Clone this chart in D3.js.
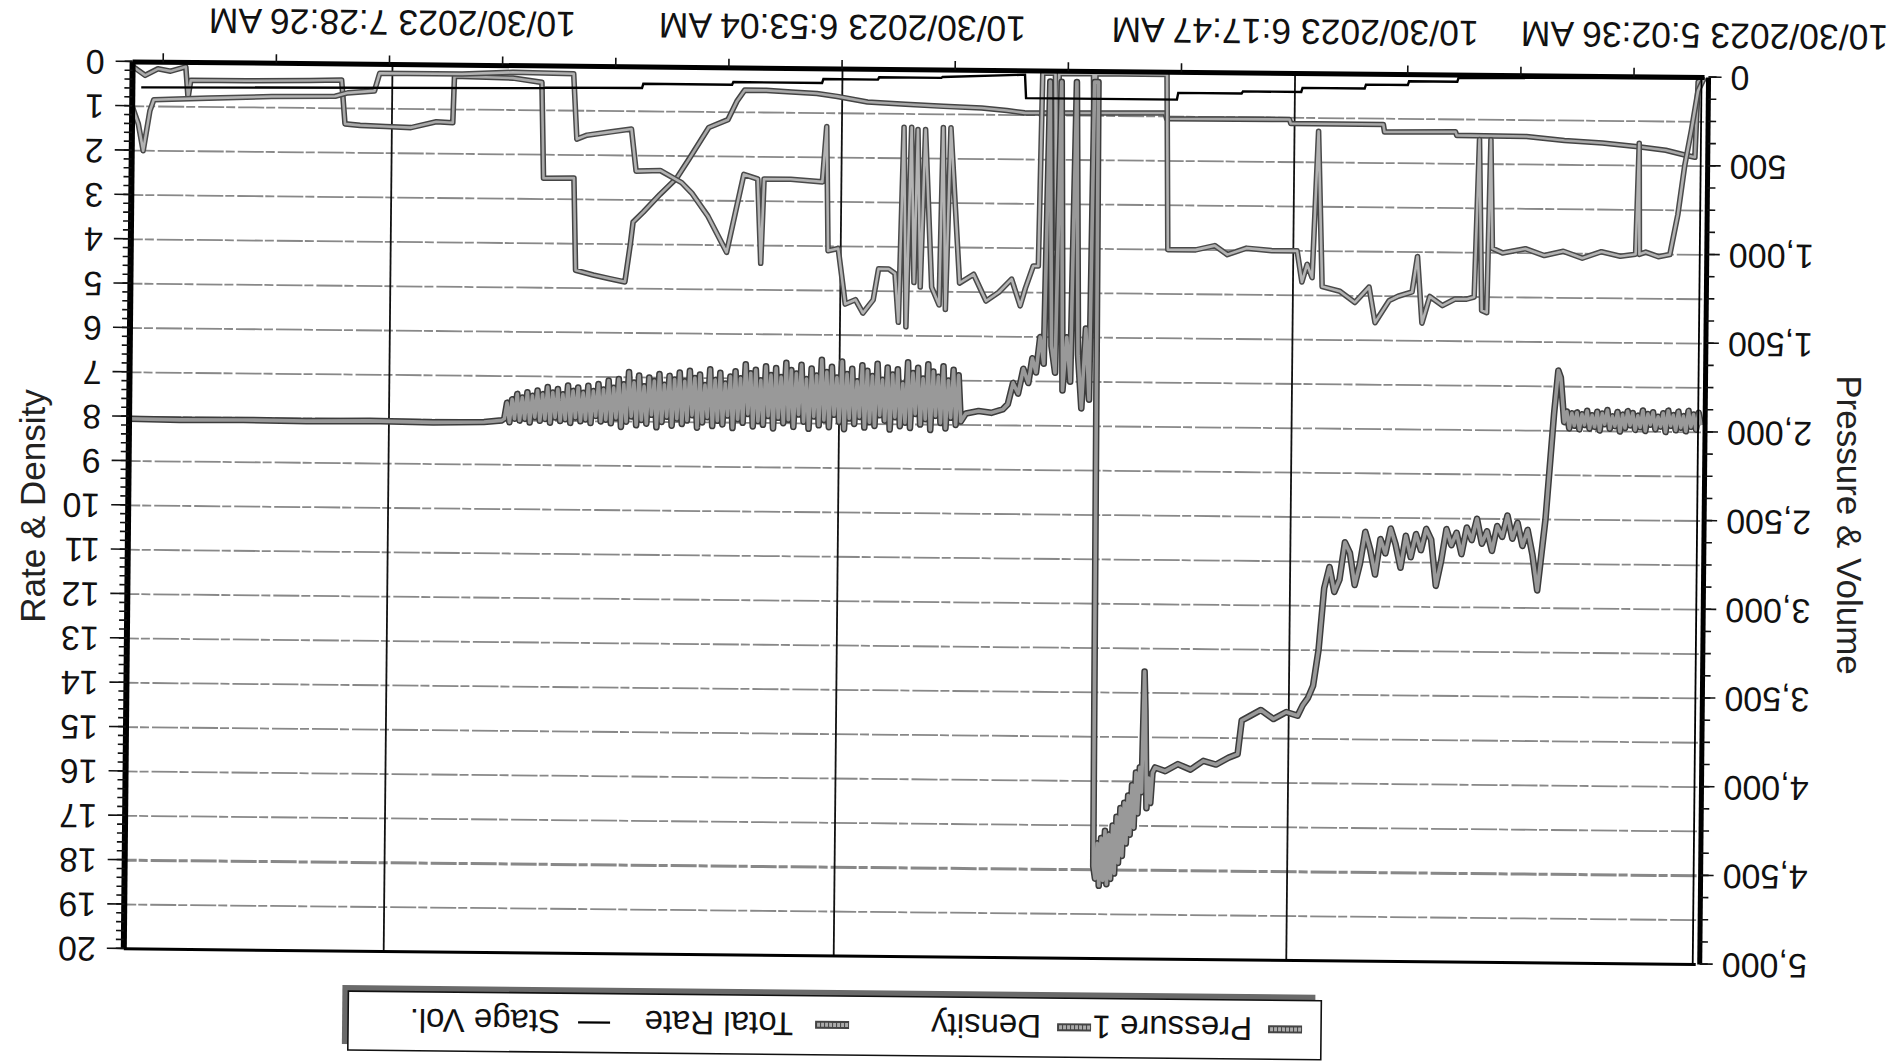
<!DOCTYPE html>
<html>
<head>
<meta charset="utf-8">
<script src="https://cdn.jsdelivr.net/npm/d3@7"></script>
<style>
  html, body { margin: 0; padding: 0; background: #fff; }
  svg { display: block; font-family: "Liberation Sans", Arial, sans-serif; }
</style>
</head>
<body>
<div id="chart"></div>
<script>
// x is minutes along the record (the recorder's axis is not one clock: see first label)
const timeTicks = [0, 32.3, 68.0, 103.5];
const timeLabels = ['10/30/2023 5:02:36 AM', '10/30/2023 6:17:47 AM', '10/30/2023 6:53:04 AM', '10/30/2023 7:28:26 AM'];
const rateTicks = [0, 1, 2, 3, 4, 5, 6, 7, 8, 9, 10, 11, 12, 13, 14, 15, 16, 17, 18, 19, 20];
const pressTicks = [0, 500, 1000, 1500, 2000, 2500, 3000, 3500, 4000, 4500, 5000];
const seriesNames = ['Pressure 1', 'Density', 'Total Rate', 'Stage Vol.'];

// psi
const pressure1 = [
  [0,1960],[0.2,1890],[0.4,1985],[0.6,1900],[0.8,1970],[1.0,1880],[1.2,1995],[1.4,1910],[1.6,1975],[1.8,1885],
  [2.0,1990],[2.2,1905],[2.4,1965],[2.6,1880],[2.8,2000],[3.0,1895],[3.2,1970],[3.4,1915],[3.6,1985],[3.8,1890],
  [4.0,1960],[4.2,1900],[4.4,1995],[4.6,1880],[4.8,1975],[5.0,1910],[5.2,1990],[5.4,1895],[5.6,1965],[5.8,1885],
  [6.0,1980],[6.2,1905],[6.4,2000],[6.6,1890],[6.8,1970],[7.0,1915],[7.2,1985],[7.4,1880],[7.6,1960],[7.8,1900],
  [8.0,1995],[8.2,1890],[8.4,1975],[8.6,1910],[8.8,1985],[9.0,1885],[9.2,1965],[9.4,1905],[9.6,1990],[9.8,1895],
  [10.0,1970],[10.2,1900],[10.4,1985],[10.6,1890],[10.8,1950],
  [11.1,1700],[11.3,1660],[11.6,1900],[12.2,2500],[12.8,2900],
  [13.2,2700],[13.6,2560],[14.0,2650],[14.4,2520],[14.8,2610],[15.2,2480],[15.6,2600],[16.0,2540],[16.4,2680],
  [16.8,2570],[17.2,2640],[17.6,2500],[18.0,2620],[18.4,2550],[18.8,2700],[19.2,2580],[19.6,2650],[20.0,2560],
  [20.4,2740],[20.8,2880],[21.2,2620],[21.6,2560],[22.0,2680],[22.4,2590],[22.8,2720],[23.2,2600],[23.6,2780],
  [24.0,2650],[24.4,2560],[24.8,2700],[25.2,2620],[25.6,2820],[26.0,2680],[26.4,2580],[26.8,2760],[27.2,2880],
  [27.6,2700],[28.0,2640],[28.4,2850],[28.8,2920],[29.2,2780],[29.6,2900],
  [30.0,3250],[30.4,3450],[30.8,3520],[31.2,3560],[31.6,3620],[32.5,3600],[33.5,3640],[34.5,3590],[35.5,3630],
  [36.0,3650],[36.3,3840],[37,3860],[38,3900],[39,3880],[40,3930],[41,3900],[42,3940],[42.8,3920],
  [43.0,3950],[43.15,4120],[43.3,3980],[43.45,4150],[43.6,3600],[43.7,3380],[43.85,4060],[44.0,3920],
  [44.15,4180],[44.3,3950],[44.45,4260],[44.6,4020],[44.75,4300],[44.9,4080],[45.05,4350],[45.2,4120],
  [45.35,4420],[45.5,4150],[45.65,4460],[45.8,4200],[45.95,4520],[46.1,4250],[46.25,4550],[46.4,4300],
  [46.55,4580],[46.7,4280],[46.85,4560],[47.0,4320],[47.15,4590],[47.3,4350],[47.45,4550],[47.6,4480],
  [47.8,60],[48.1,60],[48.3,1850],[48.6,1450],[48.9,1900],[49.2,1600],[49.5,60],[49.8,1750],[50.1,1500],
  [50.4,1800],[50.7,60],[51.0,1700],[51.3,1550],[51.6,60],[51.9,1650],[52.2,1500],[52.5,1700],[52.8,1620],
  [53.1,1760],[53.5,1680],[53.9,1820],[54.3,1760],[54.7,1880],[55.1,1910],[56.0,1930],[57.0,1920],[58.0,1935],
  [58.4,1980],[58.6,1720],[58.8,2000],[59.0,1690],[59.2,1960],[59.4,1750],[59.6,2020],[59.8,1670],[60.0,1990],
  [60.2,1730],[60.4,1950],[60.6,1700],[60.8,2030],[61.0,1660],[61.2,1970],[61.4,1740],[61.6,2000],[61.8,1680],
  [62.0,1940],[62.2,1710],[62.4,2020],[62.6,1650],[62.8,1990],[63.0,1770],[63.2,2010],[63.4,1690],[63.6,1960],
  [63.8,1720],[64.0,2030],[64.2,1680],[64.4,1980],[64.6,1750],[64.8,1950],[65.0,1660],[65.2,2010],[65.4,1730],
  [65.6,1990],[65.8,1700],[66.0,2020],[66.2,1670],[66.4,1960],[66.6,1760],[66.8,2000],[67.0,1690],[67.2,1970],
  [67.4,1720],[67.6,2030],[67.8,1650],[68.0,1990],[68.2,1740],[68.4,1950],[68.6,1680],[68.8,2020],[69.0,1710],
  [69.2,1980],[69.4,1640],[69.6,2010],[69.8,1730],[70.0,1960],[70.2,1690],[70.4,2030],[70.6,1750],[70.8,1990],
  [71.0,1670],[71.2,1950],[71.4,1720],[71.6,2020],[71.8,1700],[72.0,1980],[72.2,1660],[72.4,2000],[72.6,1740],
  [72.8,1970],[73.0,1690],[73.2,2030],[73.4,1730],[73.6,1960],[73.8,1680],[74.0,2010],[74.2,1760],[74.4,1990],
  [74.6,1700],[74.8,2020],[75.0,1720],[75.2,1950],[75.4,1670],[75.6,2000],[75.8,1750],[76.0,1980],[76.2,1710],
  [76.4,2030],[76.6,1740],[76.8,1960],[77.0,1780],[77.2,2010],[77.4,1720],[77.6,1990],[77.8,1760],[78.0,2020],
  [78.2,1700],[78.4,1970],[78.6,1790],[78.8,2000],[79.0,1730],[79.2,2030],[79.4,1750],[79.6,1960],[79.8,1710],
  [80.0,1990],[80.2,1770],[80.4,2010],[80.6,1720],[80.8,1980],[81.0,1760],[81.2,2020],[81.4,1740],[81.6,1970],
  [81.8,1790],[82.0,2000],[82.2,1730],[82.4,2030],[82.6,1770],[82.8,1960],[83.0,1750],[83.2,2010],[83.4,1800],
  [83.6,1990],[83.8,1740],[84.0,2020],[84.2,1780],[84.4,1970],[84.6,1720],[84.8,2000],[85.0,1790],[85.2,2030],
  [85.4,1760],[85.6,1980],[85.8,1810],[86.0,2010],[86.2,1770],[86.4,1990],[86.6,1820],[86.8,2000],[87.0,1790],
  [87.2,1970],[87.4,1830],[87.6,2010],[87.8,1800],[88.0,1990],[88.2,1840],[88.4,2000],[88.6,1810],[88.8,1980],
  [89.0,1830],[89.2,2010],[89.4,1800],[89.6,1990],[89.8,1850],[90.0,2000],[90.2,1820],[90.4,1980],[90.6,1840],
  [90.8,2010],[91.0,1810],[91.2,1990],[91.4,1850],[91.6,2000],[91.8,1830],[92.0,1980],[92.2,1860],[92.4,2010],
  [92.6,1840],[92.8,1990],[93.0,1870],[93.2,2000],[93.4,1850],[93.6,1990],[93.8,1880],[94.0,2010],[94.2,1900],
  [94.4,1990],[94.6,2000],[96,2010],[100,2015],[105,2010],[110,2015],[115,2012],[120,2015],[124,2012]
];

// lb/gal, left scale
const density = [
  [0,0],[0.5,0.1],[0.7,1.8],[1.5,1.75],[3,1.65],[5,1.58],[8,1.5],[11,1.45],[14,1.37],[19.5,1.36],[19.6,1.28],
  [25.2,1.3],[25.3,1.13],[32.6,1.13],[32.7,1.04],[42.4,1.05],[42.5,0.92],[53.6,0.95],[55,0.9],[57,0.85],
  [60,0.82],[63,0.78],[66,0.74],[68.4,0.62],[70,0.56],[72,0.53],[74,0.5],[75.7,0.5],[76.3,0.75],[77,1.17],
  [78.5,1.35],[80,2.05],[81,2.5],[82.3,2.87],[83.6,3.27],[84.4,3.5],[84.6,4.0],[85,4.85],[86.2,4.78],
  [87.5,4.7],[88.9,4.6],[89.1,2.52],[91.5,2.53],[91.7,0.37],[94,0.28],[98.6,0.25],[98.7,1.3],[100,1.28],
  [102,1.42],[104,1.4],[106,1.38],[107.2,1.35],[107.5,0.36],[110,0.38],[115,0.4],[119.4,0.4],[119.6,0.8],
  [119.8,0.1],[121,0.2],[122,0.15],[123,0.3],[124,0.1]
];

// bpm, left scale
const totalRate = [
  [0,0],[0.5,0.3],[1.0,1.2],[1.5,2.0],[2.0,3.1],[2.6,4.0],[3.5,4.05],[4.5,3.95],[5.0,4.0],[5.1,1.5],[5.3,4.0],
  [6.5,4.05],[8,3.95],[9.5,4.1],[11,3.95],[12.5,4.05],[14,3.9],[15.8,4.0],[16.6,3.9],[16.8,1.45],[17.0,5.35],
  [17.4,5.3],[17.7,1.45],[18.0,5.0],[18.6,5.05],[19.5,5.05],[20.5,5.2],[21.5,5.0],[22.1,5.6],[22.5,4.1],
  [22.9,4.9],[24.0,5.0],[24.7,5.1],[25.8,5.6],[26.3,4.8],[27.4,5.15],[28.6,4.9],[30.0,4.8],[30.4,1.3],
  [30.8,4.6],[31.2,4.3],[31.6,4.7],[32.0,4.0],[34,4.0],[36,3.95],[37.5,4.1],[38.5,3.9],[40,4.0],[42.2,4.0],
  [42.4,0.05],[48.0,0.05],[48.1,2.0],[48.2,0.05],[50.9,0.05],[51.0,4.0],[51.2,0.05],[52.2,0.05],[52.4,4.4],
  [52.8,4.4],[53.4,4.9],[53.8,5.3],[54.5,4.7],[55.5,5.0],[56.5,5.2],[57.5,4.6],[58.6,4.8],[59.4,1.3],[59.7,5.4],
  [60.0,1.3],[60.2,5.3],[60.8,4.9],[61.4,1.35],[61.7,4.9],[62.0,1.35],[62.2,4.8],[62.5,1.3],[62.8,5.8],
  [63.1,1.3],[63.4,5.7],[63.7,4.6],[64.2,4.5],[65.0,4.5],[65.4,5.2],[66.2,5.5],[66.8,5.2],[67.6,5.3],
  [68.2,4.05],[69.0,4.1],[69.2,1.3],[69.5,2.55],[72,2.5],[74.1,2.5],[74.3,4.4],[74.6,2.5],[75.7,2.4],
  [77.0,4.16],[78.5,3.35],[79.8,2.83],[80.6,2.6],[82.3,2.33],[84.2,2.35],[84.6,1.4],[86.2,1.47],[88.1,1.55],
  [88.9,1.64],[89.2,0.17],[94,0.15],[98,0.2],[104.5,0.2],[104.9,0.6],[107,0.65],[108,0.73],[113,0.75],
  [118,0.8],[122.3,0.85],[122.6,1.1],[123.1,2.0],[123.5,1.4],[124,1.0]
];

// bbl, right scale
const stageVol = [
  [0,5],[19.4,15],[19.5,38],[23.3,38],[23.4,59],[26.7,59],[26.8,81],[31.7,81],[31.8,104],[36.4,104],
  [36.5,116],[41.5,116],[41.6,154],[53.5,154],[53.6,22],[60.1,40],[60.2,45],[65.1,45],[65.2,58],[69.5,58],
  [69.6,80],[76.6,80],[76.7,95],[83.7,95],[83.8,119],[91.4,122],[91.5,125],[123.3,143]
];

const W = 1891, H = 1061;
const margin = {left: 191, right: 128, top: 104, bottom: 70};
const width = W - margin.left - margin.right;
const height = H - margin.top - margin.bottom;

const x = d3.scaleLinear().domain([0, 124]).range([0, width]);
const yRate = d3.scaleLinear().domain([0, 20]).range([height, 0]);
const yPress = d3.scaleLinear().domain([0, 5000]).range([height, 0]);

const svg = d3.select('#chart').append('svg')
    .attr('width', W)
    .attr('height', H);

svg.append('rect').attr('width', W).attr('height', H).attr('fill', '#fff');

// the sheet was scanned upside down and a bit crooked: draw it upright, then turn it
const page = svg.append('g')
    .attr('transform', 'rotate(180.57,' + W / 2 + ',' + H / 2 + ')');

const g = page.append('g')
    .attr('transform', 'translate(' + margin.left + ',' + margin.top + ')');

// grid
g.selectAll('line.hgrid')
    .data(rateTicks.filter(d => d > 0 && d < 20))
    .enter().append('line')
    .attr('class', 'hgrid')
    .attr('x1', 0).attr('x2', width)
    .attr('y1', d => yRate(d)).attr('y2', d => yRate(d))
    .attr('stroke', '#888')
    .attr('stroke-width', d => d === 18 ? 3 : 1.8)
    .attr('stroke-dasharray', '26 3 9 2');

g.selectAll('line.vgrid')
    .data(timeTicks.slice(1))
    .enter().append('line')
    .attr('class', 'vgrid')
    .attr('x1', d => x(d)).attr('x2', d => x(d))
    .attr('y1', 0).attr('y2', height)
    .attr('stroke', '#111')
    .attr('stroke-width', 1.8);

// series
const lineP = d3.line().x(d => x(d[0])).y(d => yPress(d[1]));
const lineR = d3.line().x(d => x(d[0])).y(d => yRate(d[1]));

function grayTrace(path, data, core, outer, coreW){
    g.append('path').datum(data)
        .attr('d', path).attr('fill', 'none')
        .attr('stroke', outer).attr('stroke-width', coreW + 3)
        .attr('stroke-linejoin', 'round');
    g.append('path').datum(data)
        .attr('d', path).attr('fill', 'none')
        .attr('stroke', core).attr('stroke-width', coreW)
        .attr('stroke-linejoin', 'round');
}

grayTrace(lineR, density, '#a9a9a9', '#444', 2.6);
grayTrace(lineR, totalRate, '#b3b3b3', '#4a4a4a', 2.6);
grayTrace(lineP, pressure1, '#999', '#3c3c3c', 3.6);

g.append('path').datum(stageVol)
    .attr('d', lineP).attr('fill', 'none')
    .attr('stroke', '#000').attr('stroke-width', 2.4);

// frame
g.append('line').attr('x1', 0).attr('x2', width).attr('y1', height).attr('y2', height)
    .attr('stroke', '#000').attr('stroke-width', 5);
g.append('line').attr('x1', 0).attr('x2', width).attr('y1', 0).attr('y2', 0)
    .attr('stroke', '#000').attr('stroke-width', 3);
g.append('line').attr('x1', width).attr('x2', width).attr('y1', 0).attr('y2', height)
    .attr('stroke', '#000').attr('stroke-width', 6);
g.append('line').attr('x1', 3).attr('x2', 3).attr('y1', 0).attr('y2', height)
    .attr('stroke', '#000').attr('stroke-width', 1.8);
g.append('line').attr('x1', -4).attr('x2', -4).attr('y1', 0).attr('y2', height)
    .attr('stroke', '#000').attr('stroke-width', 5);

// axes
function styleAxis(sel, size){
    sel.select('.domain').remove();
    sel.selectAll('line').attr('stroke', '#111').attr('stroke-width', 1.6);
    sel.selectAll('text').attr('font-size', size).attr('fill', '#111')
        .attr('font-family', '"Liberation Sans", Arial, sans-serif');
}

const pressMinor = d3.range(0, 5001, 125);
g.append('g').attr('transform', 'translate(-4,0)')
    .call(d3.axisLeft(yPress).tickValues(pressMinor).tickSize(8).tickFormat(''))
    .call(s => styleAxis(s, 0));
g.append('g').attr('transform', 'translate(-4,0)')
    .call(d3.axisLeft(yPress).tickValues(pressTicks).tickSize(13).tickPadding(9).tickFormat(d3.format(',')))
    .call(s => styleAxis(s, 34));

const rateMinor = d3.range(0, 20.01, 0.2);
g.append('g').attr('transform', 'translate(' + width + ',0)')
    .call(d3.axisRight(yRate).tickValues(rateMinor).tickSize(8).tickFormat(''))
    .call(s => styleAxis(s, 0));
g.append('g').attr('transform', 'translate(' + width + ',0)')
    .call(d3.axisRight(yRate).tickValues(rateTicks).tickSize(17).tickPadding(11).tickFormat(d3.format('d')))
    .call(s => styleAxis(s, 34));

const minorStep = (timeTicks[2] - timeTicks[1]) / 4;
const timeMinor = [];
for (let t = timeTicks[1] - minorStep; t > 1; t -= minorStep) timeMinor.push(t);
for (let t = timeTicks[1] + minorStep; t < 123; t += minorStep) timeMinor.push(t);
g.append('g').attr('transform', 'translate(0,' + height + ')')
    .call(d3.axisBottom(x).tickValues(timeMinor).tickSize(9).tickFormat(''))
    .call(s => styleAxis(s, 0));
g.append('g').attr('transform', 'translate(0,' + height + ')')
    .call(d3.axisBottom(x).tickValues(timeTicks).tickSize(0).tickPadding(29)
        .tickFormat((d, i) => timeLabels[i]))
    .call(s => styleAxis(s, 35.5));

// legend (top of the upright sheet)
const legend = page.append('g').attr('transform', 'translate(565,5)');
legend.append('rect').attr('x', 6).attr('y', 6).attr('width', 973).attr('height', 59)
    .attr('fill', '#6a6a6a');
legend.append('rect').attr('width', 973).attr('height', 59)
    .attr('fill', '#fff').attr('stroke', '#111').attr('stroke-width', 1.6);

const legendX = [19, 230, 472, 711];
const item = legend.selectAll('g.item')
    .data(seriesNames)
    .enter().append('g')
    .attr('class', 'item')
    .attr('transform', (d, i) => 'translate(' + legendX[i] + ',30)');

item.filter((d, i) => i < 3).append('line')
    .attr('x1', 0).attr('x2', 34).attr('stroke', '#444').attr('stroke-width', 8);
item.filter((d, i) => i < 3).append('line')
    .attr('x1', 1).attr('x2', 33).attr('stroke', '#aaa').attr('stroke-width', 4)
    .attr('stroke-dasharray', '3 1');
item.filter((d, i) => i === 3).append('line')
    .attr('x1', 0).attr('x2', 32).attr('stroke', '#000').attr('stroke-width', 2.2);
item.append('text')
    .attr('x', (d, i) => i === 2 ? 56 : 50)
    .attr('dy', '0.36em')
    .attr('font-size', 33)
    .attr('fill', '#111')
    .text(d => d);

// axis titles read upright on the scan
svg.append('text')
    .attr('transform', 'translate(33,506) rotate(-90)')
    .attr('text-anchor', 'middle').attr('dy', '0.35em')
    .attr('font-size', 35).attr('fill', '#222')
    .text('Rate & Density');
svg.append('text')
    .attr('transform', 'translate(1849,525) rotate(90)')
    .attr('text-anchor', 'middle').attr('dy', '0.35em')
    .attr('font-size', 35).attr('fill', '#222')
    .text('Pressure & Volume');
</script>
</body>
</html>
